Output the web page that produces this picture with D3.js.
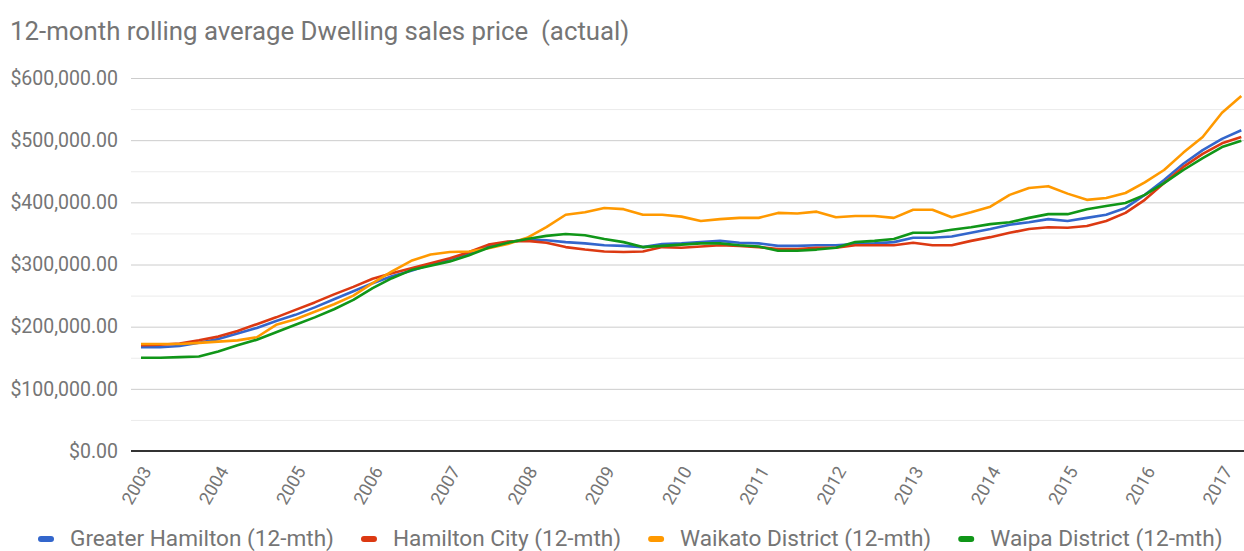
<!DOCTYPE html>
<html>
<head>
<meta charset="utf-8">
<script src="https://cdn.jsdelivr.net/npm/d3@7"></script>
<style>
  body { margin: 0; background: #fff; }
  svg { display: block; font-family: Roboto, "Noto Sans", sans-serif; }
  .grid line { stroke: #cccccc; stroke-width: 1; }
  .grid .minor { stroke: #ebebeb; }
  .lbl { fill: #757575; }
</style>
</head>
<body>
<svg id="chart" width="1244" height="551"></svg>
<script>
// quarterly figures, in thousands of dollars, 2003 Q1 .. 2017 Q2
var years = [2003, 2004, 2005, 2006, 2007, 2008, 2009, 2010, 2011, 2012, 2013, 2014, 2015, 2016, 2017];
var quarters = d3.range(58).map(function(i) { return 2003 + i / 4; });
var yTicks = [0, 100, 200, 300, 400, 500, 600];
var yMinor = [50, 150, 250, 350, 450, 550];

var greaterHamilton = [167,167,169,174, 180,189,198,209, 219,231,244,257, 270,281,290,300,
    309,318,329,336, 340,339,336,334, 331,330,328,333, 334,336,338,335, 334,330,330,331,
    331,333,334,336, 343,343,345,351, 357,364,368,373, 370,375,380,391, 412,436,462,484, 502,516];
var hamiltonCity = [170,171,173,178, 184,193,204,215, 227,239,252,264, 277,286,294,302,
    310,320,332,337, 338,335,328,324, 321,320,321,328, 327,329,331,330, 328,325,325,327,
    327,331,331,331, 335,331,331,338, 344,351,357,360, 359,362,370,383, 404,431,457,478, 495,505];
var waikato = [172,172,172,174, 176,178,183,203, 212,224,236,250, 270,289,306,316,
    320,321,326,333, 343,360,380,384, 391,389,380,380, 377,370,373,375, 375,383,382,385,
    376,378,378,375, 388,388,376,384, 393,412,423,426, 414,404,407,415, 432,452,480,505, 544,571];
var waipa = [150,150,151,152, 160,170,179,191, 203,215,228,243, 262,278,291,298,
    305,315,327,335, 341,346,349,347, 341,336,328,330, 332,334,334,331, 329,322,322,324,
    327,336,338,341, 351,351,356,360, 365,368,375,381, 381,389,394,399, 412,431,452,471, 489,499];

var seriesNames = ["Greater Hamilton (12-mth)", "Hamilton City (12-mth)", "Waikato District (12-mth)", "Waipa District (12-mth)"];
var seriesColors = ["#3366cc", "#dc3912", "#ff9900", "#109618"];
var seriesData = [greaterHamilton, hamiltonCity, waikato, waipa];

var svg = d3.select("#chart");
var left = 131, right = 1244;

var x = d3.scaleLinear().domain([2003, 2017]).range([141, 1222]);
var y = d3.scaleLinear().domain([0, 600]).range([451, 78]);
var fmt = d3.format("$,.2f");

svg.append("text")
    .attr("class", "lbl")
    .attr("x", 10).attr("y", 40)
    .style("font-size", "25.8px")
    .style("white-space", "pre")
    .text("12-month rolling average Dwelling sales price  (actual)");

var grid = svg.append("g").attr("class", "grid");
grid.selectAll("line.minor").data(yMinor).enter().append("line")
    .attr("class", "minor")
    .attr("x1", left).attr("x2", right)
    .attr("y1", function(d) { return y(d) + 0.5; })
    .attr("y2", function(d) { return y(d) + 0.5; });
grid.selectAll("line.major").data(yTicks.slice(1)).enter().append("line")
    .attr("class", "major")
    .attr("x1", left).attr("x2", right)
    .attr("y1", function(d) { return y(d) + 0.5; })
    .attr("y2", function(d) { return y(d) + 0.5; });

// y axis labels
var yAxis = svg.append("g")
    .attr("transform", "translate(118,0)")
    .call(d3.axisLeft(y).tickValues(yTicks).tickSize(0).tickPadding(0)
        .tickFormat(function(d) { return fmt(d * 1000); }));
yAxis.select(".domain").remove();
yAxis.selectAll("text").attr("class", "lbl").attr("fill", null)
    .style("font-size", "19.5px").style("font-family", "Roboto");

// lines
var line = d3.line()
    .x(function(d, i) { return x(quarters[i]); })
    .y(function(d) { return y(d); });

svg.append("g").selectAll("path").data(seriesData).enter().append("path")
    .attr("d", line)
    .attr("fill", "none")
    .attr("stroke", function(d, i) { return seriesColors[i]; })
    .attr("stroke-width", 2.6)
    .attr("stroke-linejoin", "round");

// baseline
svg.append("line")
    .attr("x1", left).attr("x2", right)
    .attr("y1", y(0)).attr("y2", y(0))
    .attr("stroke", "#333").attr("stroke-width", 2);

// x axis labels, slanted
svg.append("g").selectAll("text").data(years).enter().append("text")
    .attr("class", "lbl")
    .attr("text-anchor", "end")
    .style("font-size", "18px")
    .attr("transform", function(d) { return "translate(" + (x(d) + 11) + ",471) rotate(-60)"; })
    .text(function(d) { return d; });

// legend
var legend = svg.append("g").attr("transform", "translate(38,539)");
var lx = 0;
seriesNames.forEach(function(name, i) {
    var g = legend.append("g").attr("transform", "translate(" + lx + ",0)");
    g.append("line")
        .attr("x1", 3).attr("x2", 13)
        .attr("stroke", seriesColors[i])
        .attr("stroke-width", 6)
        .attr("stroke-linecap", "round");
    var t = g.append("text")
        .attr("class", "lbl")
        .attr("x", 32).attr("y", 7)
        .style("font-size", "22.6px")
        .text(name);
    lx += 32 + t.node().getComputedTextLength() + 27;
});
</script>
</body>
</html>
